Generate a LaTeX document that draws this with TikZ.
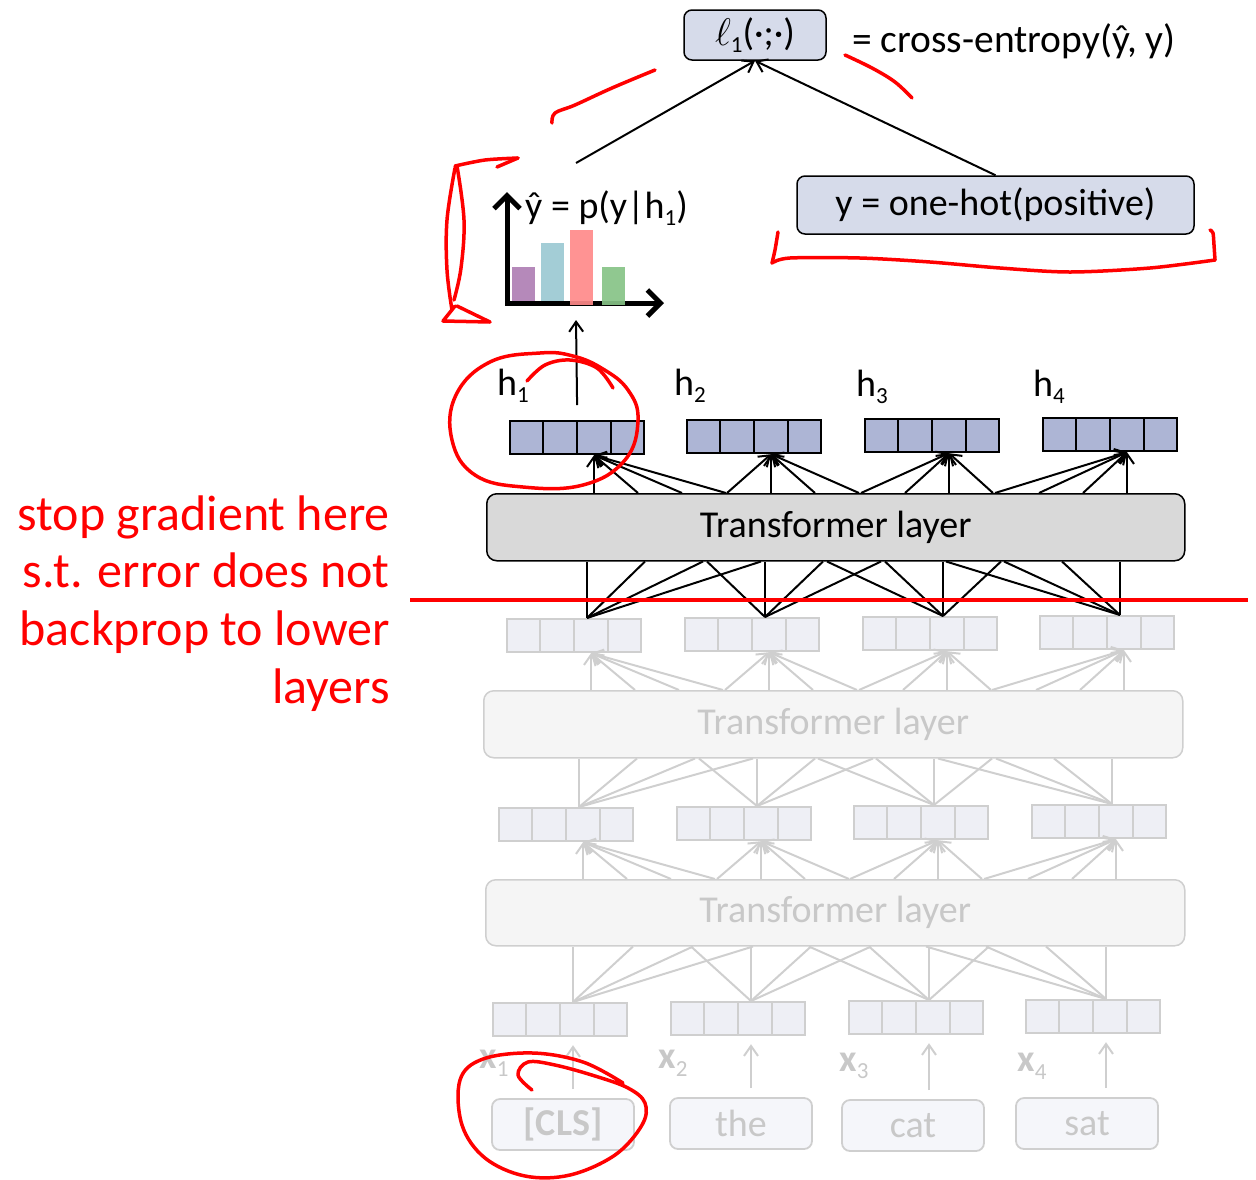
\documentclass[tikz,border=0pt]{standalone}
\usepackage{fontspec}
\setmainfont{Carlito}
\usetikzlibrary{arrows.meta,calc}
\definecolor{vecblue}{HTML}{ADB5D5}
\definecolor{boxblue}{HTML}{D6DBEA}
\definecolor{tgrey}{HTML}{D9D9D9}
\definecolor{fline}{HTML}{CFCFCF}
\definecolor{ffill}{HTML}{EEEFF5}
\definecolor{fbox}{HTML}{F5F5F5}
\definecolor{tokfill}{HTML}{F5F6FA}
\definecolor{ftext}{HTML}{C8C8C8}
\definecolor{annot}{HTML}{FF0000}
\definecolor{barP}{HTML}{B589BA}
\definecolor{barB}{HTML}{A3CDD6}
\definecolor{barR}{HTML}{FF8A8A}
\definecolor{barG}{HTML}{87C387}
\newcommand\lowsub[1]{\raisebox{-0.2em}{\fontsize{23}{23}\selectfont #1}}
\begin{document}
\begin{tikzpicture}[x=1pt,y=-1pt,
 fs/.style={font=\fontsize{38}{44}\selectfont},
 vecA/.style={draw=black, line width=2.2pt, fill=vecblue, minimum width=134pt, minimum height=33pt, inner sep=0pt, anchor=north west},
 vecG/.style={vecA, draw=fline, fill=ffill},
 divA/.style={draw=black, line width=2.2pt},
 divG/.style={draw=fline, line width=2.2pt},
 tfA/.style={draw=black, line width=1.5pt, fill=tgrey, rounded corners=10pt, inner sep=0pt, anchor=north west, fs},
 tfG/.style={tfA, draw=fline, fill=fbox, text=ftext},
 conn/.style={line width=2pt, -{Straight Barb[length=10pt,width=14pt]}},
 connG/.style={conn, draw=fline},
 wire/.style={line width=2pt},
 wireG/.style={wire, draw=fline},
 annotline/.style={draw=annot, line width=3.5pt, line cap=round, line join=round},
 tokbox/.style={draw=fline, fill=tokfill, line width=1.8pt, rounded corners=8pt, minimum width=142pt, minimum height=51pt, inner sep=0pt, fs, text=ftext},
 bluebox/.style={draw=black, line width=1.5pt, fill=boxblue, rounded corners=8pt, inner sep=0pt, fs},
 plain/.style={fs, inner sep=0pt},
 redtext/.style={font=\fontsize{50}{57}\selectfont, text=annot, inner sep=0pt, anchor=base east},
 xlab/.style={fs, inner sep=0pt, text=ftext},
]
\useasboundingbox (0,0) rectangle (1256,1179);

% ---------- transformer layers ----------
\node[tfA, minimum width=698pt, minimum height=67pt] (T3) at (486,493) {Transformer layer};
\node[tfG, minimum width=699pt, minimum height=67pt] (T2) at (483,690) {Transformer layer};
\node[tfG, minimum width=699pt, minimum height=66pt] (T1) at (485,879) {Transformer layer};

% ---------- vector rows ----------
\foreach \r/\sty/\dsty/\xa/\xb/\xc/\xd/\ya in {A/vecA/divA/509/686/864/1042/420, B/vecG/divG/506/684/862/1039/618, C/vecG/divG/498/676/853/1031/807, D/vecG/divG/492/670/848/1025/1002} {
  \foreach \j/\x in {1/\xa,2/\xb,3/\xc,4/\xd} {
    \node[\sty] (\r\j) at (\x,{\ya-\j+1}) {};
    \foreach \k in {1,2,3}
      \draw[\dsty] ($(\r\j.north west)!\k/4!(\r\j.north east)$) -- ($(\r\j.south west)!\k/4!(\r\j.south east)$);
    \coordinate (\r\j-b) at ($(\r\j.south west)+(85,0)$);
    \coordinate (\r\j-t) at ($(\r\j.north west)+(81,0)$);
  }
}

% ---------- tokens ----------
\node[tokbox, font=\fontsize{38}{44}\selectfont\bfseries] (tok1) at (563,1124.5) {[CLS]};
\node[tokbox] (tok2) at (741,1123.5) {the};
\node[tokbox] (tok3) at (913,1125.5) {cat};
\node[tokbox] (tok4) at (1087,1123.5) {sat};
\node[xlab] (x1) at (494,1063) {\textbf{x}\lowsub{1}};
\node[xlab] (x2) at (673,1063) {\textbf{x}\lowsub{2}};
\node[xlab] (x3) at (854,1066) {\textbf{x}\lowsub{3}};
\node[xlab] (x4) at (1032,1066) {\textbf{x}\lowsub{4}};
\foreach \j in {1,...,4}
  \draw[connG] ($(D\j-t |- tok\j.north)+(0,-9)$) -- ($(D\j-t |- D\j.south)+(0,8)$);

% ---------- grey wiring ----------
\foreach \i in {1,...,4}{\foreach \j in {1,...,4}{
  \draw[wireG] (D\i-t) -- ($(D\i-t |- T1.south)+({60*(\j-\i)},0)$);
  \draw[connG] ($(C\i-b |- T1.north)+({44*(\j-\i)},0)$) -- (C\i-b);
  \draw[wireG] (C\i-t) -- ($(C\i-t |- T2.south)+({58*(\j-\i)},0)$);
  \draw[connG] ($(B\i-b |- T2.north)+({44*(\j-\i)},0)$) -- (B\i-b);
}}

% ---------- black wiring ----------
\foreach \i in {1,...,4}{\foreach \j in {1,...,4}{
  \draw[wire] (B\i-t) -- ($(B\i-t |- T3.south)+({58*(\j-\i)},0)$);
  \draw[conn] ($(A\i-b |- T3.north)+({44*(\j-\i)},0)$) -- (A\i-b);
}}

% ---------- h labels ----------
\node[plain, anchor=base west] (h1) at (497,395) {h\lowsub{1}};
\node[plain, anchor=base west] (h2) at (674,395) {h\lowsub{2}};
\node[plain, anchor=base west] (h3) at (856,396) {h\lowsub{3}};
\node[plain, anchor=base west] (h4) at (1033,396) {h\lowsub{4}};

% ---------- bar chart ----------
\coordinate (chartin) at (576,320);
\draw[conn] ($(A1.north)+(0,-15)$) -- (chartin);
\coordinate (yax) at (507,192);
\coordinate (orig) at (507,303);
\coordinate (xax) at (664,303);
\draw[line width=5pt, {Straight Barb[length=13pt,width=26pt]}-{Straight Barb[length=13pt,width=26pt]}] (yax) -- (orig) -- (xax);
\fill[barP] (512,267) rectangle (535,301);
\fill[barB] (541,243) rectangle (564,301);
\fill[barR, opacity=0.92] (570,230) rectangle (593,305);
\fill[barG, opacity=0.92] (602,267) rectangle (625,305);
\node[plain, anchor=base west] (ylab) at (525,218) {ŷ = p(y|h\lowsub{1})};

% ---------- loss ----------
\node[bluebox, minimum width=142pt, minimum height=50pt] (loss) at (755,35) {\scalebox{1.55}{$\ell$}\lowsub{1}(·;·)};
\node[plain, anchor=base west, font=\fontsize{39.5}{44}\selectfont] (eq) at (852,52) {= cross-entropy(ŷ, y)};
\node[bluebox, minimum width=397pt, minimum height=58pt] (ynode) at (995.5,205) {y = one-hot(positive)};
\coordinate (ytop) at (576,163);
\draw[conn] (ytop) -- (loss.south);
\draw[conn] (ynode.north) -- (loss.south);

% ---------- red annotations ----------
\coordinate (redL) at (410,600);
\coordinate (redR) at (1248,600);
\draw[draw=annot, line width=4pt] (redL) -- (redR);
\node[redtext] (n1) at (390,530) {stop gradient here};
\node[redtext] (n2) at (390,587) {s.t. error does not};
\node[redtext] (n3) at (390,645) {backprop to lower};
\node[redtext] (n4) at (390,703) {layers};

\draw[annotline] plot[smooth, tension=0.6] coordinates {(552,123) (555,113) (575,105) (612,88) (655,70)};
\draw[annotline] plot[smooth, tension=0.6] coordinates {(845,55) (872,68) (895,82) (912,98)};
% bracket left of chart
\draw[annotline] plot[smooth, tension=0.5] coordinates {(518,158) (485,160) (455,166)};
\draw[annotline] (518,158) -- (497,167);
\draw[annotline] plot[smooth, tension=0.6] coordinates {(455,168) (447,220) (447,270) (452,310)};
\draw[annotline] plot[smooth, tension=0.6] coordinates {(457,166) (464,220) (461,268) (454,300)};
\draw[annotline] (455,306) -- (443,321) -- (490,322) -- (457,306);
% underline y box
\draw[annotline] plot[smooth, tension=0.5] coordinates {(778,232) (775,250) (772,263)};
\draw[annotline] plot[smooth, tension=0.5] coordinates {(772,263) (790,258) (860,258) (930,262) (1000,268) (1070,272) (1150,268) (1215,260)};
\draw[annotline] plot[smooth, tension=0.5] coordinates {(1215,260) (1214,245) (1213,233) (1210,230)};
% circle h1
\draw[annotline] plot[smooth cycle, tension=0.7] coordinates {(540,353) (490,362) (456,395) (452,440) (475,475) (523,487) (583,485) (625,460) (638,420) (628,390) (603,369) (573,356)};
\draw[annotline] plot[smooth, tension=0.6] coordinates {(527,381) (545,365) (570,360) (597,368) (613,388)};
% circle CLS
\draw[annotline] plot[smooth, tension=0.6] coordinates {(623,1083) (583,1062) (533,1053) (483,1059) (460,1080) (462,1125) (485,1158) (525,1176) (570,1175) (615,1155) (642,1125) (645,1103) (628,1088) (595,1076) (555,1065) (528,1062) (518,1075) (532,1090)};
\end{tikzpicture}
\end{document}
